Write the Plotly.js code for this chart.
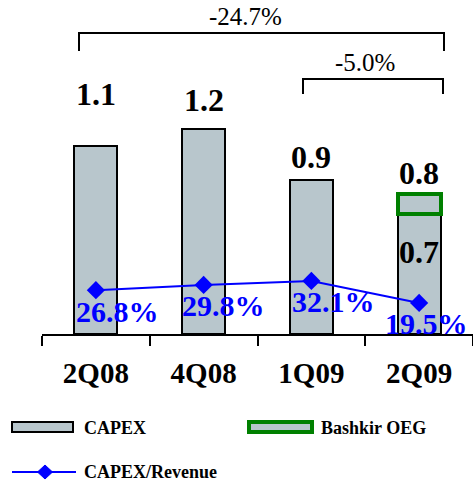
<!DOCTYPE html>
<html><head><meta charset="utf-8">
<script src="https://cdn.plot.ly/plotly-3.0.1.min.js"></script>
<style>html,body{margin:0;padding:0;background:#fff;}#chart{width:473px;height:481px;}</style>
</head><body><div id="chart"></div>
<script>
// ---- data ----
const categories = ['2Q08', '4Q08', '1Q09', '2Q09'];
const capex = [1.1, 1.2, 0.9, 0.7];
const bashkirOEG = [null, null, null, 0.12];
const capexRevenue = [26.8, 29.8, 32.1, 19.5];
const changeLabels = ['-24.7%', '-5.0%'];
const legendLabels = ['CAPEX', 'Bashkir OEG', 'CAPEX/Revenue'];

// ---- style ----
const FONT = 'Liberation Serif, Times New Roman, serif';
const GRAY = '#B8C6CC';
const GREEN = '#008000';
const BLUE = '#0000FF';
const L = 42, R = 0, T = 0, B = 147, W = 473, H = 481;
const PW = W - L - R, PH = H - T - B;
const px = v => (v - L) / PW;
const py = v => (H - B - v) / PH;

const totals = capex.map((c, i) => c + (bashkirOEG[i] || 0));

const traces = [
  {type: 'bar', x: categories, y: capex, width: 0.4, marker: {color: GRAY, line: {color: '#000', width: 2}}, hoverinfo: 'none'},
  {type: 'bar', x: categories, y: bashkirOEG, width: 0.4, marker: {color: GRAY, line: {color: GREEN, width: 4}}, hoverinfo: 'none'},
  {type: 'scatter', mode: 'lines+markers', x: categories, y: capexRevenue, yaxis: 'y2',
   line: {color: BLUE, width: 2}, marker: {symbol: 'diamond', size: 14, color: BLUE}, hoverinfo: 'none'}
];

const annotations = [];
const bold = t => '<b>' + t + '</b>';
const barFont = {family: FONT, size: 32, color: '#000'};
// bar value labels
const barShift = [52, 29, 23, 0];
capex.forEach((v, i) => {
  if (bashkirOEG[i]) {
    annotations.push({x: categories[i], y: v, yref: 'y', text: bold(v.toFixed(1)), showarrow: false, xanchor: 'center', yanchor: 'middle', yshift: -38, font: barFont});
    annotations.push({x: categories[i], y: totals[i], yref: 'y', text: bold(totals[i].toFixed(1)), showarrow: false, xanchor: 'center', yanchor: 'middle', yshift: 21, font: barFont});
  } else {
    annotations.push({x: categories[i], y: v, yref: 'y', text: bold(v.toFixed(1)), showarrow: false, xanchor: 'center', yanchor: 'middle', yshift: barShift[i], font: barFont});
  }
});
// percentage labels
const pctX = [22, 20, 22, 7];
capexRevenue.forEach((v, i) => {
  annotations.push({x: categories[i], y: v, yref: 'y2', text: bold(v.toFixed(1) + '%'), showarrow: false, xanchor: 'center', yanchor: 'middle',
    xshift: pctX[i], yshift: -21, font: {family: FONT, size: 30, color: BLUE}});
});
// change labels
const chFont = {family: FONT, size: 25, color: '#000'};
annotations.push({xref: 'paper', yref: 'paper', x: px(245), y: py(16), xanchor: 'center', yanchor: 'middle', text: changeLabels[0], showarrow: false, font: chFont});
annotations.push({xref: 'paper', yref: 'paper', x: px(365), y: py(63), xanchor: 'center', yanchor: 'middle', text: changeLabels[1], showarrow: false, font: chFont});
// legend text
const legFont = {family: FONT, size: 18, color: '#000'};
annotations.push({xref: 'paper', yref: 'paper', x: px(82), y: py(428), xanchor: 'left', yanchor: 'middle', text: bold(legendLabels[0]), showarrow: false, font: legFont});
annotations.push({xref: 'paper', yref: 'paper', x: px(319), y: py(428), xanchor: 'left', yanchor: 'middle', text: bold(legendLabels[1]), showarrow: false, font: legFont});
annotations.push({xref: 'paper', yref: 'paper', x: px(82), y: py(472), xanchor: 'left', yanchor: 'middle', text: bold(legendLabels[2]), showarrow: false, font: legFont});

const bracket = (x1, x2, yh, yv) => ({type: 'path', xref: 'paper', yref: 'paper',
  path: `M ${px(x1)},${py(yv)} L ${px(x1)},${py(yh)} L ${px(x2)},${py(yh)} L ${px(x2)},${py(yv)}`,
  line: {color: '#000', width: 2}});

const shapes = [
  bracket(79, 444, 33, 51),
  bracket(303, 443, 79, 94),
  {type: 'rect', xref: 'paper', yref: 'paper', x0: px(12), x1: px(73), y0: py(432), y1: py(422), fillcolor: GRAY, line: {color: '#000', width: 2}},
  {type: 'rect', xref: 'paper', yref: 'paper', x0: px(249), x1: px(312), y0: py(432), y1: py(422), fillcolor: GRAY, line: {color: GREEN, width: 4}},
  {type: 'line', xref: 'paper', yref: 'paper', x0: px(12), x1: px(76), y0: py(472), y1: py(472), line: {color: BLUE, width: 2}},
  {type: 'path', xref: 'paper', yref: 'paper', fillcolor: BLUE, line: {color: BLUE, width: 1},
   path: `M ${px(37.5)},${py(472)} L ${px(45)},${py(465)} L ${px(52.5)},${py(472)} L ${px(45)},${py(479)} Z`}
];

const layout = {
  width: W, height: H, margin: {l: L, r: R, t: T, b: B, pad: 0},
  paper_bgcolor: '#fff', plot_bgcolor: '#fff', showlegend: false, barmode: 'stack',
  xaxis: {type: 'category', range: [-0.5, 3.5], showline: true, linecolor: '#000', linewidth: 2,
    ticks: 'outside', tickson: 'boundaries', ticklen: 10, tickwidth: 2, tickcolor: '#000',
    showgrid: false, zeroline: false, ticklabelstandoff: 12,
    tickfont: {family: FONT, size: 29, color: '#000', weight: 'bold'}},
  yaxis: {range: [0, PH / 171], visible: false, showgrid: false, zeroline: false},
  yaxis2: {range: [1.7, 193], overlaying: 'y', visible: false, showgrid: false, zeroline: false},
  annotations: annotations, shapes: shapes
};

Plotly.newPlot('chart', traces, layout, {staticPlot: true, displayModeBar: false});
</script></body></html>
